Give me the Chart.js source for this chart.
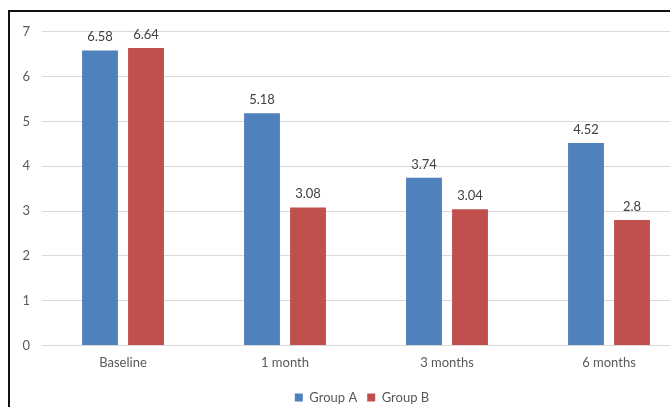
<!DOCTYPE html>
<html>
<head>
    <title>Group A vs Group B</title>
    <script src="https://cdn.jsdelivr.net/npm/chart.js"></script>
    <style>
        body {
            margin: 0;
            padding: 0;
            width: 670px;
            height: 407px;
            overflow: hidden;
            position: relative;
            background: #ffffff;
        }

        #frame {
            position: absolute;
            left: 8px;
            top: 10px;
            width: 800px;
            height: 500px;
            border-left: 2px solid #111;
            border-top: 2px solid #111;
        }

        #chartBox {
            position: absolute;
            left: 10px;
            top: 12px;
            width: 704px;
            height: 402px;
        }
    </style>
</head>
<body>

<div id="frame"></div>
<div id="chartBox">
    <canvas id="barChart"></canvas>
</div>

<script>
    var categories = ['Baseline', '1 month', '3 months', '6 months'];
    var groupA = [6.58, 5.18, 3.74, 4.52];
    var groupB = [6.64, 3.08, 3.04, 2.8];
    var yTicks = [0, 1, 2, 3, 4, 5, 6, 7];

    var fontName = 'Lato, "Open Sans", sans-serif';

    // rótulos em cima das barras
    var valueLabels = {
        id: 'valueLabels',
        afterDatasetsDraw: function (chart) {
            var ctx = chart.ctx;
            ctx.save();
            ctx.font = '13px ' + fontName;
            ctx.fillStyle = '#404040';
            ctx.textAlign = 'center';
            ctx.textBaseline = 'bottom';
            chart.data.datasets.forEach(function (ds, i) {
                chart.getDatasetMeta(i).data.forEach(function (bar, j) {
                    ctx.fillText(String(ds.data[j]), bar.x, bar.y - 7);
                });
            });
            ctx.restore();
        }
    };

    var ctx = document.getElementById('barChart').getContext('2d');
    var chart = new Chart(ctx, {
        type: 'bar',
        data: {
            labels: categories,
            datasets: [{
                label: 'Group A',
                data: groupA,
                backgroundColor: '#4F81BD',
                barPercentage: 0.78,
                categoryPercentage: 0.568
            }, {
                label: 'Group B',
                data: groupB,
                backgroundColor: '#C0504D',
                barPercentage: 0.78,
                categoryPercentage: 0.568
            }]
        },
        options: {
            responsive: true,
            maintainAspectRatio: false,
            animation: false,
            layout: {
                padding: { top: 14, right: 0, left: 0, bottom: 0 }
            },
            plugins: {
                legend: {
                    position: 'bottom',
                    labels: {
                        boxWidth: 8,
                        boxHeight: 8,
                        padding: 10,
                        color: '#595959',
                        font: { family: fontName, size: 13 }
                    }
                },
                tooltip: { enabled: false }
            },
            scales: {
                x: {
                    grid: { display: false, drawTicks: false },
                    border: { display: false },
                    ticks: {
                        color: '#595959',
                        padding: 10,
                        font: { family: fontName, size: 13 }
                    }
                },
                y: {
                    min: 0,
                    max: 7,
                    afterFit: function (scale) { scale.width = 32; },
                    afterBuildTicks: function (scale) {
                        scale.ticks = yTicks.map(function (v) { return { value: v }; });
                    },
                    grid: { color: '#D9D9D9', drawTicks: false },
                    border: { display: false },
                    ticks: {
                        color: '#595959',
                        padding: 12,
                        font: { family: fontName, size: 13 }
                    }
                },
                // espaço vazio à direita (o gráfico original continua além da borda)
                yRight: {
                    position: 'right',
                    afterFit: function (scale) { scale.width = 24; },
                    grid: { display: false },
                    border: { display: false },
                    ticks: { display: false }
                }
            }
        },
        plugins: [valueLabels]
    });
</script>

</body>
</html>
